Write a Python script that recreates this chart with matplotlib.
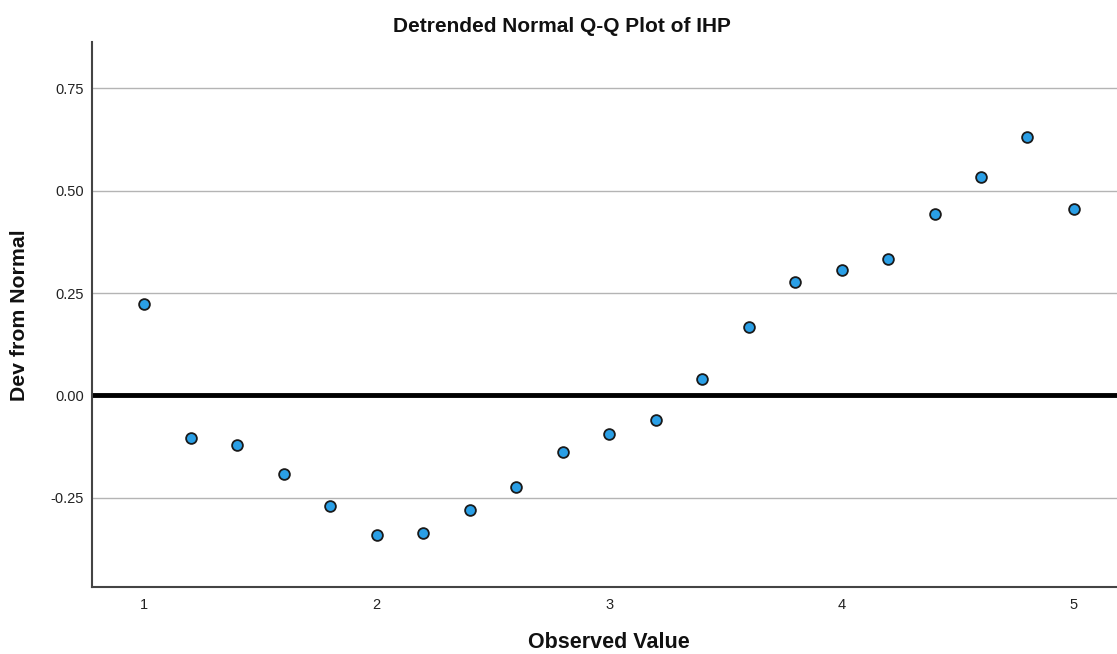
import matplotlib
matplotlib.use("Agg")
import matplotlib.pyplot as plt

plt.rcParams['font.family'] = ['Liberation Sans', 'DejaVu Sans']

observed = [1.0, 1.2, 1.4, 1.6, 1.8, 2.0, 2.2, 2.4, 2.6, 2.8, 3.0, 3.2, 3.4, 3.6, 3.8, 4.0, 4.2, 4.4, 4.6, 4.8, 5.0]
dev = [0.222, -0.105, -0.120, -0.193, -0.269, -0.340, -0.335, -0.281, -0.225, -0.139, -0.095,
       -0.061, 0.039, 0.166, 0.276, 0.306, 0.333, 0.443, 0.533, 0.631, 0.455]
xticks = [1, 2, 3, 4, 5]
yticks = [-0.25, 0.00, 0.25, 0.50, 0.75]
ytick_labels = ['-0.25', '0.00', '0.25', '0.50', '0.75']

W, H = 1117, 654
fig = plt.figure(figsize=(W / 100, H / 100), dpi=100)
ax = fig.add_axes([92 / W, 67 / H, 1 - 92 / W, (587 - 42) / H])
ax.set_xlim(0.776, 5.185)
ax.set_ylim(-0.468, 0.863)

for y in yticks:
    ax.axhline(y, color='#b4b4b4', lw=1.0, zorder=1)
ax.axhline(0, color='black', lw=3.5, zorder=2)

ax.scatter(observed, dev, s=60, facecolor='#2a9fe6', edgecolor='#1a1a1a', linewidth=1.3, zorder=3)

ax.set_xticks(xticks)
ax.set_xticklabels([str(v) for v in xticks])
ax.set_yticks(yticks)
ax.set_yticklabels(ytick_labels)
ax.tick_params(length=0, labelsize=10.5, colors='#222222')
ax.tick_params(axis='x', pad=8)
ax.tick_params(axis='y', pad=6)

for s in ['top', 'right']:
    ax.spines[s].set_visible(False)
for s in ['left', 'bottom']:
    ax.spines[s].set_color('#444444')
    ax.spines[s].set_linewidth(1.5)

fig.text(609 / W, 1 - 648 / H, 'Observed Value', ha='center', va='baseline',
         fontsize=15.5, fontweight='bold', color='#111111')
fig.text(20 / W, 1 - 315 / H, 'Dev from Normal', ha='center', va='center', rotation=90,
         fontsize=15.3, fontweight='bold', color='#111111')
fig.text(562 / W, 1 - 32 / H, 'Detrended Normal Q-Q Plot of IHP', ha='center', va='baseline',
         fontsize=15, fontweight='bold', color='#111111')

fig.savefig('out.png', dpi=100, facecolor='white')
